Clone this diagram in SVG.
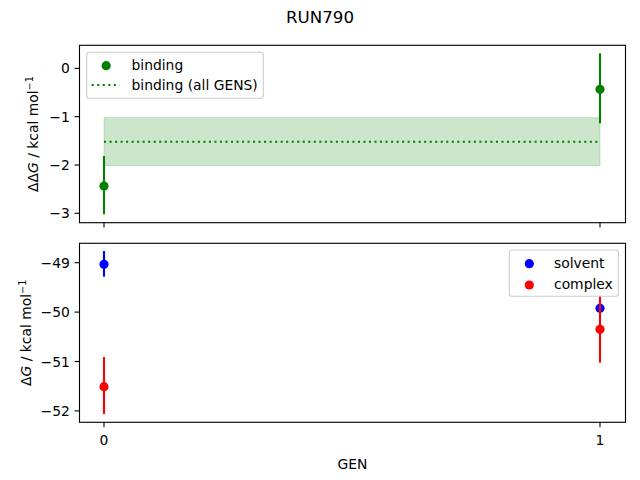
<svg xmlns="http://www.w3.org/2000/svg" width="640" height="480" viewBox="0 0 640 480">
<style>
text{font-family:"DejaVu Sans","Liberation Sans",sans-serif;font-size:13.89px;fill:#000}
.tl{text-anchor:end}
.tc{text-anchor:middle}
.spine{fill:none;stroke:#000;stroke-width:1.11}
.tick{stroke:#000;stroke-width:1.11}
.eg{stroke:#008000;stroke-width:2.08}
.eb{stroke:#0000ff;stroke-width:2.08}
.er{stroke:#ff0000;stroke-width:2.08}
.dot{stroke:#008000;stroke-width:2.08;stroke-dasharray:2.08 3.44;fill:none}
.leg{fill:#fff;fill-opacity:0.8;stroke:#cccccc;stroke-width:1.11}
</style>
<rect width="640" height="480" fill="#fff"/>
<text x="320" y="22.5" class="tc" style="font-size:16.67px">RUN790</text>

<g id="top-axes">
  <rect x="104" y="117.7" width="496" height="48" fill="#008000" fill-opacity="0.2" stroke="#008000" stroke-opacity="0.2" stroke-width="1"/>
  <line x1="104" y1="141.7" x2="600" y2="141.7" class="dot"/>
  <g id="binding-points">
    <line x1="104" y1="156" x2="104" y2="214.3" class="eg"/>
    <circle cx="104" cy="186" r="4.6" fill="#008000"/>
    <line x1="600" y1="53.3" x2="600" y2="123.3" class="eg"/>
    <circle cx="600" cy="89.3" r="4.6" fill="#008000"/>
  </g>
  <rect x="79.5" y="45.3" width="546" height="177.4" class="spine"/>
  <g id="top-ticks">
    <line x1="74.6" y1="68.4" x2="79.5" y2="68.4" class="tick"/>
    <line x1="74.6" y1="116.7" x2="79.5" y2="116.7" class="tick"/>
    <line x1="74.6" y1="165" x2="79.5" y2="165" class="tick"/>
    <line x1="74.6" y1="213.3" x2="79.5" y2="213.3" class="tick"/>
    <line x1="104" y1="222.7" x2="104" y2="227.6" class="tick"/>
    <line x1="600" y1="222.7" x2="600" y2="227.6" class="tick"/>
    <text x="69.8" y="73.4" class="tl">0</text>
    <text x="69.8" y="121.7" class="tl">−1</text>
    <text x="69.8" y="170" class="tl">−2</text>
    <text x="69.8" y="218.3" class="tl">−3</text>
  </g>
  <text transform="translate(37.5,134) rotate(-90)" class="tc">ΔΔ<tspan font-style="italic">G</tspan> / kcal mol<tspan dy="-5" style="font-size:9.7px">−1</tspan></text>
  <g id="top-legend">
    <rect x="86.7" y="52.3" width="176.6" height="46" rx="2.8" class="leg"/>
    <circle cx="106.2" cy="65.7" r="4.6" fill="#008000"/>
    <text x="131.5" y="70.2">binding</text>
    <line x1="91.7" y1="85" x2="119.5" y2="85" class="dot"/>
    <text x="131.5" y="89.6">binding (all GENS)</text>
  </g>
</g>

<g id="bottom-axes">
  <g id="solvent-points">
    <line x1="104" y1="251" x2="104" y2="276.7" class="eb"/>
    <circle cx="104" cy="264.3" r="4.6" fill="#0000ff"/>
    <line x1="600" y1="300" x2="600" y2="316.6" class="eb"/>
    <circle cx="600" cy="308.3" r="4.6" fill="#0000ff"/>
  </g>
  <g id="complex-points">
    <line x1="104" y1="357" x2="104" y2="414" class="er"/>
    <circle cx="104" cy="386.7" r="4.6" fill="#ff0000"/>
    <line x1="600" y1="295.9" x2="600" y2="362.7" class="er"/>
    <circle cx="600" cy="329.3" r="4.6" fill="#ff0000"/>
  </g>
  <rect x="79.5" y="243.3" width="546" height="179" class="spine"/>
  <g id="bottom-ticks">
    <line x1="74.6" y1="262.7" x2="79.5" y2="262.7" class="tick"/>
    <line x1="74.6" y1="312.1" x2="79.5" y2="312.1" class="tick"/>
    <line x1="74.6" y1="361.5" x2="79.5" y2="361.5" class="tick"/>
    <line x1="74.6" y1="410.9" x2="79.5" y2="410.9" class="tick"/>
    <line x1="104" y1="422.3" x2="104" y2="427.2" class="tick"/>
    <line x1="600" y1="422.3" x2="600" y2="427.2" class="tick"/>
    <text x="69.8" y="267.7" class="tl">−49</text>
    <text x="69.8" y="317.1" class="tl">−50</text>
    <text x="69.8" y="366.5" class="tl">−51</text>
    <text x="69.8" y="415.9" class="tl">−52</text>
    <text x="104" y="445" class="tc">0</text>
    <text x="600" y="445" class="tc">1</text>
  </g>
  <text transform="translate(30.5,332.8) rotate(-90)" class="tc">Δ<tspan font-style="italic">G</tspan> / kcal mol<tspan dy="-5" style="font-size:9.7px">−1</tspan></text>
  <text x="352.5" y="468.5" class="tc">GEN</text>
  <g id="bottom-legend">
    <rect x="509.3" y="250" width="109" height="46.3" rx="2.8" class="leg"/>
    <circle cx="529.3" cy="263.7" r="4.6" fill="#0000ff"/>
    <text x="554" y="268.3">solvent</text>
    <circle cx="529.3" cy="285" r="4.6" fill="#ff0000"/>
    <text x="554" y="289.3">complex</text>
  </g>
</g>
</svg>
